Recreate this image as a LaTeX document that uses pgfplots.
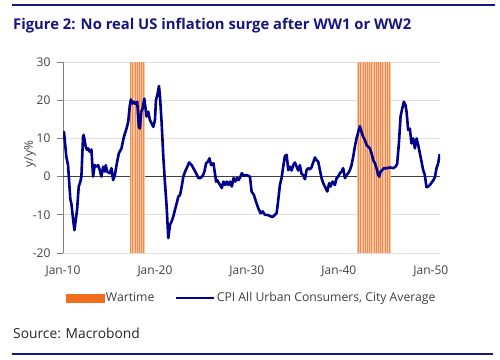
\documentclass[border=0pt]{standalone}
\usepackage{pgfplots}
\pgfplotsset{compat=1.18}
\usepackage{pgfplotstable}
\usepackage{fontspec}
\setmainfont{Open Sans}
\definecolor{navy}{RGB}{0,0,140}
\definecolor{titlenavy}{RGB}{22,22,128}
\definecolor{warfill}{RGB}{242,136,78}
\definecolor{warstripe}{RGB}{250,200,160}
\definecolor{legorange}{RGB}{240,110,30}
\definecolor{ticktext}{RGB}{64,64,64}

\pgfplotstableread{
x y
1910.00 10
1910.11 11.7
1910.36 5.2
1910.55 3
1910.80 -6
1910.91 -7
1911.09 -11
1911.24 -14
1911.53 -8.7
1911.71 -2.6
1911.89 -1.3
1912.00 0
1912.18 10.4
1912.25 10.9
1912.47 7.8
1912.62 7
1912.73 7.4
1912.91 6.5
1913.09 7.1
1913.27 0
1913.45 3
1913.64 2.6
1913.82 3
1914.00 1.7
1914.18 0
1914.36 2.6
1914.55 1.3
1914.65 3
1914.80 1.3
1915.09 0.9
1915.27 2.2
1915.45 -0.9
1915.64 0.4
1915.82 3
1916.07 6.1
1916.36 7.4
1916.62 10.4
1916.91 12.6
1917.09 14.3
1917.27 18.7
1917.38 20.2
1917.56 19.1
1917.71 19.6
1917.89 19
1918.07 19.6
1918.25 13
1918.36 12.6
1918.51 17
1918.65 17.8
1918.84 20.4
1918.98 17.8
1919.09 15.7
1919.27 17
1919.45 14.8
1919.64 13.9
1919.82 13
1920.00 14.8
1920.11 20
1920.29 21.7
1920.44 23.7
1920.55 20.9
1920.73 13.9
1920.91 5.2
1921.09 -1.7
1921.27 -7.8
1921.45 -16.1
1921.64 -12.6
1921.82 -11.7
1922.00 -10.4
1922.18 -8.7
1922.36 -7
1922.55 -5.2
1922.73 -4.8
1922.91 -2.6
1923.09 0
1923.27 1.3
1923.45 2.2
1923.71 3.7
1924.00 3
1924.18 2.2
1924.47 0.9
1924.73 -0.4
1924.91 -0.4
1925.20 0.2
1925.38 1.3
1925.56 3.5
1925.75 3.9
1925.93 4.8
1926.11 3
1926.36 3.5
1926.55 0.4
1926.65 -1.3
1926.80 -1
1926.95 -1.7
1927.09 -2.2
1927.27 -3
1927.45 -1.3
1927.64 -2.2
1927.82 -1.3
1928.00 -2.2
1928.18 -1.3
1928.36 -2.6
1928.55 -0.4
1928.73 -1.3
1928.91 -0.4
1929.09 -0.9
1929.27 -0.2
1929.45 0.9
1929.64 0.2
1930.00 0.4
1930.33 0
1930.51 -3.9
1930.76 -4.8
1930.98 -6.5
1931.24 -8.3
1931.49 -9.6
1931.71 -9.1
1931.96 -10
1932.21 -10
1932.50 -10.3
1932.79 -10.6
1933.05 -10
1933.23 -9.6
1933.41 -6.1
1933.59 -2.2
1933.77 -0.4
1933.95 2.6
1934.13 5.4
1934.32 5.7
1934.50 1.7
1934.68 2.6
1934.86 1.6
1935.04 3
1935.22 3.7
1935.40 2.6
1935.58 1.6
1935.76 3
1935.95 0.7
1936.13 0.4
1936.31 -0.7
1936.49 1.7
1936.67 2.2
1936.85 1.9
1937.03 2.4
1937.21 3.7
1937.40 5
1937.58 4.3
1937.76 3.9
1937.94 1.7
1938.12 -0.4
1938.30 -1.7
1938.48 -2.6
1938.74 -3.9
1938.95 -1.7
1939.10 -2.6
1939.32 -1.3
1939.57 -2.2
1939.75 -0.4
1939.93 0
1940.11 0.9
1940.29 1.3
1940.47 2.2
1940.66 -0.4
1940.84 0.4
1941.02 0.9
1941.20 1.7
1941.38 3
1941.56 5.2
1941.74 7.8
1941.92 10
1942.11 11.7
1942.29 13.2
1942.47 11.7
1942.65 10.4
1942.83 9.6
1943.01 8.3
1943.19 7.8
1943.37 7.4
1943.55 6.1
1943.74 4.3
1943.92 3.5
1944.10 2.2
1944.28 0.4
1944.39 0
1944.53 1.3
1944.71 1.7
1944.90 2.2
1945.19 2.2
1945.55 2.4
1945.91 2.2
1946.16 2.6
1946.34 3.3
1946.53 8.7
1946.71 15.7
1946.89 17.8
1947.07 19.6
1947.25 18.7
1947.36 17
1947.54 12.2
1947.72 12.6
1947.90 8.7
1948.08 10
1948.27 7.4
1948.45 10
1948.63 8.3
1948.81 6.1
1948.99 3.9
1949.17 1.7
1949.35 0.4
1949.53 -2.8
1949.71 -2.6
1949.90 -2.2
1950.08 -1.6
1950.26 -1.0
1950.44 -0.2
1950.62 2.2
1950.80 3.5
1950.98 5.9
}\cpidata

\pgfplotstableread{
x top bottom
1917.40 30 -20
1917.60 30 -20
1917.80 30 -20
1918.00 30 -20
1918.20 30 -20
1918.40 30 -20
1918.60 30 -20
1918.80 30 -20
1942.00 30 -20
1942.20 30 -20
1942.40 30 -20
1942.60 30 -20
1942.80 30 -20
1943.00 30 -20
1943.20 30 -20
1943.40 30 -20
1943.60 30 -20
1943.80 30 -20
1944.00 30 -20
1944.20 30 -20
1944.40 30 -20
1944.60 30 -20
1944.80 30 -20
1945.00 30 -20
1945.20 30 -20
1945.40 30 -20
1945.60 30 -20
}\stripes

\begin{document}
\begin{tikzpicture}
\path[use as bounding box] (0,0) rectangle (500pt,-359pt);
\draw[titlenavy, line width=2pt] (12pt,-5pt) -- (495pt,-5pt);
\node[anchor=base west, inner sep=0pt, text=titlenavy, font=\fontsize{14.8}{17}\selectfont\bfseries] at (13pt,-29pt) {Figure 2: No real US inflation surge after WW1 or WW2};
\node[anchor=west, inner sep=0pt, font=\fontsize{13.8}{16}\selectfont, text=black!85] at (13pt,-333pt) {Source: Macrobond};
\draw[titlenavy, line width=1.6pt] (12pt,-354pt) -- (493pt,-354pt);

\begin{axis}[
  at={(63pt,-253pt)}, anchor=south west,
  scale only axis, width=377pt, height=191pt,
  xmin=1910, xmax=1951, ymin=-20, ymax=30,
  xtick={1910,1920,1930,1940,1950},
  xticklabels={Jan-10,Jan-20,Jan-30,Jan-40,Jan-50},
  ytick={-20,-10,0,10,20,30},
  yticklabels={-20,-10,0,10,20,30},
  axis y line*=left, axis x line*=bottom,
  x axis line style={draw=none},
  y axis line style={draw=gray, line width=0.8pt},
  xtick style={draw=none},
  ytick style={draw=gray, line width=0.8pt},
  tick align=outside, major tick length=6pt,
  ymajorgrids, grid style={draw=black!13, line width=0.8pt},
  tick label style={font=\fontsize{12}{14}\selectfont, text=ticktext},
  xticklabel style={yshift=-3pt},
  yticklabel style={xshift=-3pt},
  ylabel={y/y\%},
  every axis y label/.style={at={(axis description cs:-0.0875,0.518)}, rotate=90, anchor=center, font=\fontsize{12}{14}\selectfont, text=ticktext},
  extra y ticks={0}, extra y tick labels={},
  extra y tick style={grid style={draw=black!75, line width=0.8pt}, major tick length=0pt},
  legend style={at={(0.5,-0.236)}, anchor=center, draw=none, fill=none,
    legend columns=2, font=\fontsize{12.2}{14}\selectfont, text=ticktext,
    /tikz/every even column/.append style={column sep=18pt},
    legend cell align=left},
  clip=true,
]
\addplot[fill=warfill, draw=none, forget plot] coordinates {(1917.25,-20) (1917.25,30) (1918.87,30) (1918.87,-20)} -- cycle;
\addplot[fill=warfill, draw=none, forget plot] coordinates {(1941.92,-20) (1941.92,30) (1945.62,30) (1945.62,-20)} -- cycle;
\addplot[ycomb, draw=warstripe, line width=0.7pt, mark=none, forget plot] table[x=x, y=top] {\stripes};
\addplot[ycomb, draw=warstripe, line width=0.7pt, mark=none, forget plot] table[x=x, y=bottom] {\stripes};
\addplot[navy, line width=2.6pt, line join=round, mark=none, forget plot] table[x=x, y=y] {\cpidata};
\addlegendimage{legend image code/.code={\fill[legorange] (0pt,-4pt) rectangle (38pt,4pt);}}
\addlegendentry{Wartime}
\addlegendimage{legend image code/.code={\draw[navy, line width=2.5pt] (0pt,0pt) -- (38pt,0pt);}}
\addlegendentry{CPI All Urban Consumers, City Average}
\end{axis}
\end{tikzpicture}
\end{document}
